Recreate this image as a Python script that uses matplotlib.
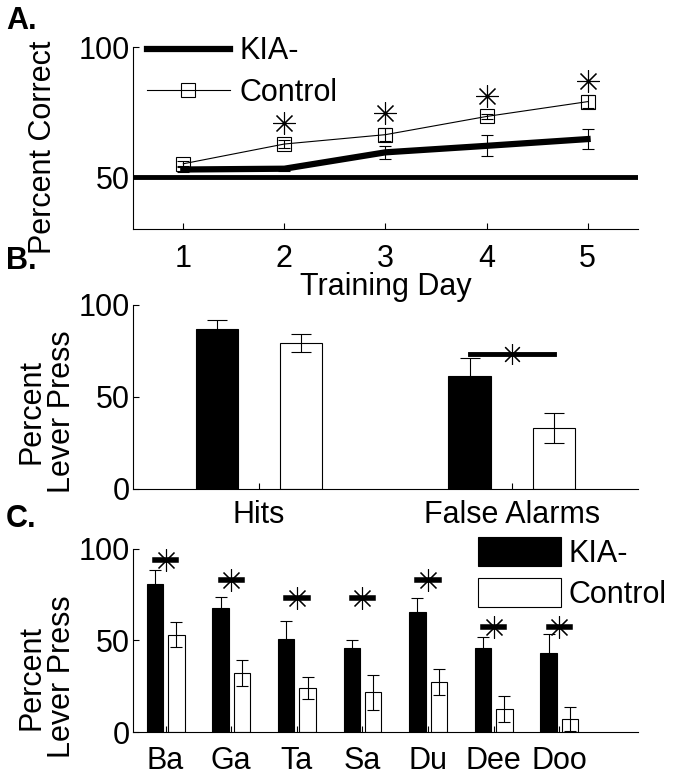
import numpy as np
import matplotlib
matplotlib.use('Agg')
import matplotlib.pyplot as plt
from matplotlib.patches import Patch
from matplotlib.lines import Line2D

plt.rcParams['font.family'] = ['Liberation Sans', 'DejaVu Sans']
fs = 22
plt.rcParams['font.size'] = fs

# panel A: percent correct by training day
days = [1, 2, 3, 4, 5]
kia_a = [52.9, 53.2, 59.5, 62.0, 64.6]
kia_a_err = [0.8, 0.8, 2.5, 4.0, 4.0]
ctrl_a = [55.1, 62.7, 66.3, 73.3, 79.0]
ctrl_a_err = [1.0, 1.5, 2.5, 1.0, 2.5]
star_a_days = [2, 3, 4, 5]
star_a_y = [70.6, 74.8, 81.2, 86.9]

# panel B: hits / false alarms
measures = ['Hits', 'False Alarms']
kia_b = [87.0, 61.4]
kia_b_err = [5.0, 9.6]
ctrl_b = [79.3, 33.0]
ctrl_b_err = [4.8, 8.2]
sig_b_y = 73.2

# panel C: per syllable
syllables = ['Ba', 'Ga', 'Ta', 'Sa', 'Du', 'Dee', 'Doo']
kia_c = [81.0, 67.8, 50.8, 46.0, 65.6, 46.0, 43.2]
kia_c_err = [7.3, 5.8, 10.0, 4.0, 7.4, 5.7, 10.2]
ctrl_c = [53.2, 32.0, 24.0, 21.7, 27.3, 12.7, 7.1]
ctrl_c_err = [6.8, 7.1, 6.0, 9.7, 7.0, 7.0, 6.4]
sig_c_y = [93.8, 83.2, 73.2, 73.2, 83.2, 57.4, 57.4]

star = (8, 2, 0)

fig = plt.figure(figsize=(6.81, 7.79), dpi=100)
L, W = 0.195, 0.742
axA = fig.add_axes([L, 0.706, W, 0.2336])
axB = fig.add_axes([L, 0.3723, W, 0.2362])
axC = fig.add_axes([L, 0.0603, W, 0.235])

for ax in (axA, axB, axC):
    ax.spines['top'].set_visible(False)
    ax.spines['right'].set_visible(False)
    for s in ('left', 'bottom'):
        ax.spines[s].set_linewidth(0.8)
    ax.tick_params(direction='in', length=4, width=0.8, labelsize=fs)

# ---- A
axA.axhline(50, color='black', lw=3.5, zorder=1)
axA.errorbar(days, kia_a, yerr=kia_a_err, color='black', lw=4.5, elinewidth=0.8,
             capsize=4, capthick=0.8, zorder=3)
axA.errorbar(days, ctrl_a, yerr=ctrl_a_err, color='black', lw=0.8, marker='s', ms=9.5,
             mfc='none', mec='black', mew=0.8, elinewidth=0.8, capsize=4, capthick=0.8,
             zorder=3)
axA.plot(star_a_days, star_a_y, ls='none', marker=star, ms=16, mew=0.8, color='black')
axA.set_xlim(0.5, 5.5)
axA.set_ylim(30, 100)
axA.set_yticks([50, 100])
axA.set_xticks(days)
axA.tick_params(axis='x', pad=11)
axA.tick_params(axis='y', pad=2)
axA.set_xlabel('Training Day', fontsize=fs, labelpad=-2)
axA.text(-0.178, 0.45, 'Percent Correct', rotation=90, ha='center', va='center',
         transform=axA.transAxes, fontsize=fs)
hA = [Line2D([], [], color='black', lw=4.5),
      Line2D([], [], color='black', lw=0.8, marker='s', ms=9.5, mfc='none', mew=0.8)]
axA.legend(hA, ['KIA-', 'Control'], loc='upper left', bbox_to_anchor=(0.028, 1.058),
           frameon=False, borderpad=0, handlelength=2.72, handletextpad=0.3,
           labelspacing=0.38, fontsize=fs, borderaxespad=0)

# ---- B
xb = np.arange(1, len(measures) + 1)
off_b, w_b = 0.167, 0.167
axB.bar(xb - off_b, kia_b, w_b, color='black', edgecolor='black', lw=0.8, zorder=2)
axB.errorbar(xb - off_b, kia_b, yerr=kia_b_err, fmt='none', ecolor='black',
             elinewidth=0.8, capsize=7, capthick=0.8, zorder=1)
axB.bar(xb + off_b, ctrl_b, w_b, color='white', edgecolor='black', lw=0.8, zorder=2)
axB.errorbar(xb + off_b, ctrl_b, yerr=ctrl_b_err, fmt='none', ecolor='black',
             elinewidth=0.8, capsize=7, capthick=0.8, zorder=3)
axB.plot([xb[1] - off_b, xb[1] + off_b], [sig_b_y, sig_b_y], color='black', lw=3.5, zorder=4)
axB.plot([xb[1]], [sig_b_y], ls='none', marker=star, ms=15, mew=0.8, color='black', zorder=5)
axB.set_xlim(0.5, 2.5)
axB.set_ylim(0, 100)
axB.set_yticks([0, 50, 100])
axB.set_xticks(xb)
axB.set_xticklabels(measures)
axB.tick_params(axis='x', pad=8)
axB.tick_params(axis='y', pad=2)
axB.text(-0.17, 0.42, 'Percent\nLever Press', rotation=90, ha='center', va='center',
         transform=axB.transAxes, fontsize=fs, linespacing=1.0)

# ---- C
xc = np.arange(1, len(syllables) + 1)
off_c, w_c = 0.163, 0.25
axC.bar(xc - off_c, kia_c, w_c, color='black', edgecolor='black', lw=0.8, zorder=2)
axC.errorbar(xc - off_c, kia_c, yerr=kia_c_err, fmt='none', ecolor='black',
             elinewidth=0.8, capsize=4, capthick=0.8, zorder=1)
axC.bar(xc + off_c, ctrl_c, w_c, color='white', edgecolor='black', lw=0.8, zorder=2)
axC.errorbar(xc + off_c, ctrl_c, yerr=ctrl_c_err, fmt='none', ecolor='black',
             elinewidth=0.8, capsize=4, capthick=0.8, zorder=3)
for x, y in zip(xc, sig_c_y):
    axC.plot([x - off_c, x + off_c], [y, y], color='black', lw=4, zorder=4)
axC.plot(xc, sig_c_y, ls='none', marker=star, ms=16, mew=0.8, color='black', zorder=5)
axC.set_xlim(0.5, 8.2)
axC.set_ylim(0, 100)
axC.set_yticks([0, 50, 100])
axC.set_xticks(xc)
axC.set_xticklabels(syllables)
axC.tick_params(axis='x', pad=10)
axC.tick_params(axis='y', pad=2)
axC.text(-0.17, 0.3, 'Percent\nLever Press', rotation=90, ha='center', va='center',
         transform=axC.transAxes, fontsize=fs, linespacing=1.0)
hC = [Patch(facecolor='black', edgecolor='black', lw=0.8),
      Patch(facecolor='white', edgecolor='black', lw=0.8)]
axC.legend(hC, ['KIA-', 'Control'], loc='upper left', bbox_to_anchor=(0.683, 1.066),
           frameon=False, borderpad=0, handlelength=2.72, handleheight=1.1,
           handletextpad=0.25, labelspacing=0.3, fontsize=fs, borderaxespad=0)

# panel letters
for lab, ypix in (('A.', 6), ('B.', 246), ('C.', 504)):
    fig.text(6 / 681, 1 - ypix / 779, lab, fontsize=22, fontweight='bold', va='top', ha='left')

fig.savefig('out.png', dpi=100)
